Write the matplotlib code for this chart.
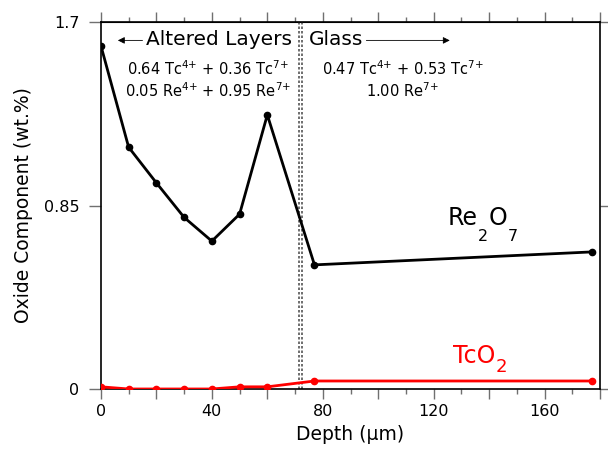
import numpy as np
import matplotlib
matplotlib.use("Agg")
import matplotlib.pyplot as plt

# depth (um) and oxide component (wt.%)
depth = [0, 10, 20, 30, 40, 50, 60, 77, 177]
re2o7 = [1.59, 1.12, 0.955, 0.795, 0.685, 0.81, 1.27, 0.575, 0.635]
tco2 = [0.01, 0.0, 0.0, 0.0, 0.0, 0.01, 0.01, 0.037, 0.037]

boundary = 72
y_ticks = [0, 0.85, 1.7]
y_tick_labels = ["0", "0.85", "1.7"]
x_ticks = list(range(0, 181, 20))
x_tick_labels = [str(v) if v % 40 == 0 else "" for v in x_ticks]

plt.rcParams['font.family'] = ['DejaVu Sans']
tick_col = '#707070'


def formula(ax, x, y, parts, color='black', size=17, sub_size=10, sub_dy=0.5):
    # parts: list of (text, is_subscript); subscripts hang below the baseline
    first = ax.text(x, y, parts[0][0], fontsize=size, color=color,
                    ha='left', va='baseline')
    prev = first
    for txt, is_sub in parts[1:]:
        if is_sub:
            prev = ax.annotate(txt, xy=(1, 0), xycoords=(prev, first),
                               fontsize=sub_size, color=color, ha='left', va='top',
                               xytext=(0.3, sub_dy), textcoords='offset points')
        else:
            prev = ax.annotate(txt, xy=(1, 0), xycoords=(prev, first),
                               fontsize=size, color=color, ha='left', va='bottom',
                               xytext=(0.3, 0), textcoords='offset points')


fig = plt.figure(figsize=(6.08, 4.5), dpi=100)
ax = fig.add_axes([0.166, 0.1356, 0.821, 0.8154])

ax.plot(depth, re2o7, color='black', lw=2, marker='o', ms=4.5, zorder=3)
ax.plot(depth, tco2, color='#ff0000', lw=2, marker='o', ms=4.5, zorder=3)

# double dotted boundary line
for dx in (-0.5, 0.5):
    ax.axvline(boundary + dx, color='#555555', lw=1.2, ls=(0, (1.5, 1.2)), zorder=2)

ax.set_xlim(0, 180)
ax.set_ylim(0, 1.7)
ax.set_xticks(x_ticks)
ax.set_xticklabels(x_tick_labels)
ax.set_xticks(np.arange(0, 181, 10), minor=True)
ax.set_yticks(y_ticks)
ax.set_yticklabels(y_tick_labels)
ax.tick_params(axis='x', direction='out', labelsize=11.5, length=7, width=1,
               color=tick_col, pad=4)
ax.tick_params(axis='x', which='minor', direction='out', length=3.5, width=1,
               color=tick_col)
ax.tick_params(axis='y', direction='out', labelsize=11.5, length=8.6, width=1,
               color=tick_col, pad=7, right=True)

# top axis ticks
top = ax.secondary_xaxis('top')
top.set_xticks(np.arange(0, 181, 20))
top.set_xticks(np.arange(0, 181, 10), minor=True)
top.tick_params(direction='out', length=7, width=1, labeltop=False, color=tick_col)
top.tick_params(which='minor', direction='out', length=3.5, width=1, color=tick_col)

for s in ax.spines.values():
    s.set_linewidth(1.2)

ax.set_xlabel("Depth (μm)", fontsize=13.5, labelpad=4)
ax.set_ylabel("Oxide Component (wt.%)", fontsize=13.5, labelpad=8)

ax.text(69, 1.594, "Altered Layers", fontsize=14.5, ha='right', va='baseline')
ax.annotate("", xy=(5.1, 1.615), xytext=(16, 1.615),
            arrowprops=dict(arrowstyle='-|>', color='black', lw=0.6,
                            mutation_scale=10))
ax.text(74.9, 1.594, "Glass", fontsize=14.5, ha='left', va='baseline')
ax.annotate("", xy=(126.8, 1.615), xytext=(94.7, 1.615),
            arrowprops=dict(arrowstyle='-|>', color='black', lw=0.6,
                            mutation_scale=10))

ax.text(38.7, 1.455, r"0.64 Tc$^{4{+}}$ + 0.36 Tc$^{7{+}}$", fontsize=10.5,
        ha='center', va='baseline')
ax.text(38.7, 1.353, r"0.05 Re$^{4{+}}$ + 0.95 Re$^{7{+}}$", fontsize=10.5,
        ha='center', va='baseline')
ax.text(108.8, 1.455, r"0.47 Tc$^{4{+}}$ + 0.53 Tc$^{7{+}}$", fontsize=10.5,
        ha='center', va='baseline')
ax.text(108.8, 1.353, r"1.00 Re$^{7{+}}$", fontsize=10.5,
        ha='center', va='baseline')

formula(ax, 125, 0.759, [("Re", False), ("2", True), ("O", False), ("7", True)],
        sub_size=11.5, sub_dy=1)
formula(ax, 126.8, 0.120, [("TcO", False), ("2", True)], color='#ff0000',
        sub_size=13, sub_dy=7)

fig.savefig("out.png", dpi=100)
